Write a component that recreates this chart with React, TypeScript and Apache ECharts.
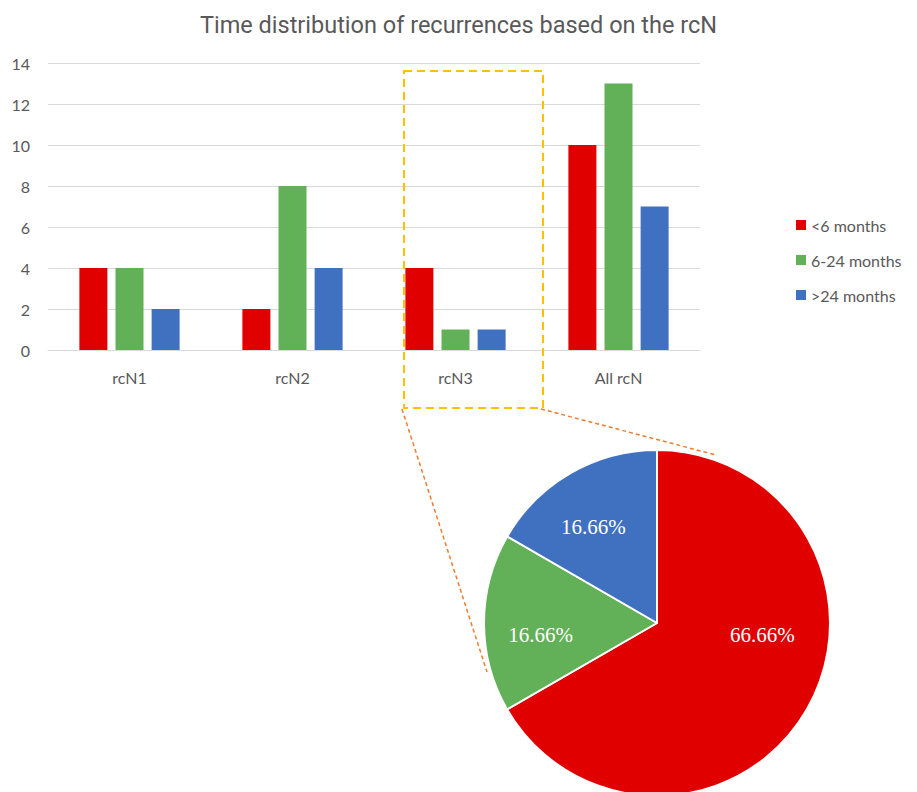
import React, { useEffect, useRef } from "react";
import * as echarts from "echarts";

const categories = ["rcN1", "rcN2", "rcN3", "All rcN"];
const seriesNames = ["<6 months", "6-24 months", ">24 months"];
const lessThan6 = [4, 2, 4, 10];
const from6to24 = [4, 8, 1, 13];
const moreThan24 = [2, 4, 1, 7];
const yTicks = { min: 0, max: 14, interval: 2 };
const pieShares = [66.66, 16.66, 16.66];

const COLORS = ["#E00000", "#62B058", "#4070C0"];
const GRAY = "#595959";
const SANS = "Lato, 'Open Sans', sans-serif";

export default function App() {
  const ref = useRef<HTMLDivElement>(null);
  useEffect(() => {
    if (!ref.current) return;
    const chart = echarts.init(ref.current, null, { renderer: "svg" });
    const barData = [lessThan6, from6to24, moreThan24];
    const labelShift = [
      [28, -33],
      [-27, 12],
      [-19, -18],
    ];
    chart.setOption({
      animation: false,
      backgroundColor: "#ffffff",
      title: {
        text: "Time distribution of recurrences based on the rcN",
        left: "center",
        top: 8,
        textStyle: {
          fontFamily: "Roboto, sans-serif",
          fontWeight: "normal",
          fontSize: 23.5,
          color: GRAY,
        },
      },
      legend: {
        orient: "vertical",
        left: 791,
        top: 212,
        itemWidth: 10,
        itemHeight: 10,
        itemGap: 19,
        icon: "rect",
        data: seriesNames,
        textStyle: { fontFamily: SANS, fontSize: 16, color: GRAY, lineHeight: 16 },
      },
      grid: { left: 48, right: 217, top: 63, bottom: 442, containLabel: false },
      xAxis: {
        type: "category",
        data: categories,
        axisLine: { show: true, lineStyle: { color: "#D9D9D9", width: 1 } },
        axisTick: { show: false },
        axisLabel: { fontFamily: SANS, fontSize: 16, color: GRAY, margin: 19 },
      },
      yAxis: {
        type: "value",
        min: yTicks.min,
        max: yTicks.max,
        interval: yTicks.interval,
        axisLine: { show: false },
        axisTick: { show: false },
        splitLine: { lineStyle: { color: "#D9D9D9", width: 1 } },
        axisLabel: { fontFamily: SANS, fontSize: 16, color: GRAY, margin: 18 },
      },
      series: [
        ...seriesNames.map((name, i) => ({
          type: "bar",
          name,
          data: barData[i],
          barWidth: 28,
          barGap: "29%",
          itemStyle: { color: COLORS[i] },
        })),
        {
          type: "pie",
          name: "rcN3",
          center: [657, 623],
          radius: 173,
          startAngle: 90,
          clockwise: true,
          data: seriesNames.map((name, i) => ({
            name,
            value: pieShares[i],
            itemStyle: { color: COLORS[i] },
          })),
          itemStyle: { borderColor: "#ffffff", borderWidth: 2 },
          label: {
            show: true,
            position: "inside",
            formatter: (p: any) => `${Number(p.value).toFixed(2)}%`,
            fontFamily: "'Liberation Serif', 'DejaVu Serif', serif",
            fontSize: 21,
            color: "#ffffff",
          },
          labelLayout: (p: any) => ({
            dx: labelShift[p.dataIndex][0],
            dy: labelShift[p.dataIndex][1],
          }),
          labelLine: { show: false },
          emphasis: { disabled: true },
        },
      ],
      graphic: [
        {
          type: "rect",
          shape: { x: 404, y: 71, width: 139, height: 337 },
          style: { fill: "none", stroke: "#FFC000", lineWidth: 2, lineDash: [8, 5] },
          z: 10,
        },
        {
          type: "line",
          shape: { x1: 402, y1: 409, x2: 487, y2: 672 },
          style: { stroke: "#ED7D31", lineWidth: 1.5, lineDash: [4, 3] },
          z: 10,
        },
        {
          type: "line",
          shape: { x1: 541, y1: 409, x2: 716, y2: 455 },
          style: { stroke: "#ED7D31", lineWidth: 1.5, lineDash: [4, 3] },
          z: 10,
        },
      ],
    });
    return () => chart.dispose();
  }, []);
  return (
    <div
      ref={ref}
      style={{ position: "absolute", left: 0, top: 0, width: 917, height: 792 }}
    />
  );
}
